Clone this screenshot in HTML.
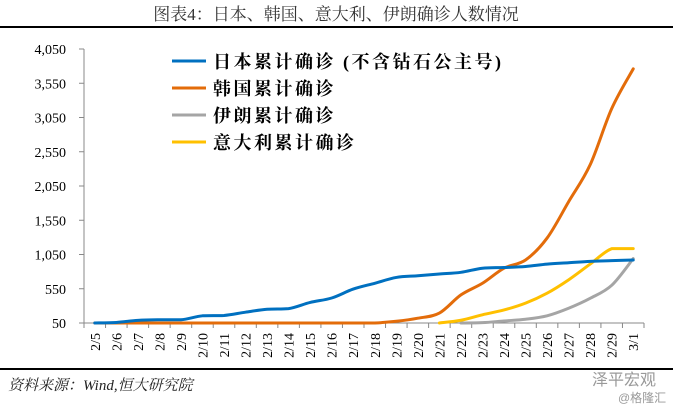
<!DOCTYPE html>
<html><head><meta charset="utf-8"><style>
body{margin:0;background:#fff;width:673px;height:405px;overflow:hidden}
svg{display:block}
</style></head><body>
<svg id="chart" width="673" height="405" xmlns="http://www.w3.org/2000/svg" font-family="'Liberation Serif','Noto Serif CJK SC',serif">
<text x="336" y="20" text-anchor="middle" font-size="17" fill="#333" font-family="'Liberation Serif','Noto Serif CJK SC',serif">图表4：日本、韩国、意大利、伊朗确诊人数情况</text>
<rect x="0" y="26" width="673" height="2" fill="#000"/>
<rect x="0" y="368" width="673" height="2" fill="#000"/>
<text x="8" y="390" font-size="15" font-style="italic" fill="#222">资料来源：Wind,恒大研究院</text>
<text x="592" y="385" font-size="16" fill="#999" font-family="'Liberation Sans','Noto Sans CJK SC',sans-serif">泽平宏观</text>
<text x="618" y="402" font-size="12" fill="#999" font-family="'Liberation Sans','Noto Sans CJK SC',sans-serif">@格隆汇</text>
<g id="axes"></g>
<g id="series"></g>
<g id="legend"></g>
</svg>
<script>
const categories=["2/5","2/6","2/7","2/8","2/9","2/10","2/11","2/12","2/13","2/14","2/15","2/16","2/17","2/18","2/19","2/20","2/21","2/22","2/23","2/24","2/25","2/26","2/27","2/28","2/29","3/1"];
const japan=[50,58,88,97,97,155,160,208,250,260,350,415,545,630,715,740,765,790,850,860,875,910,930,950,960,970];
const korea=[50,50,50,50,50,50,50,50,50,50,50,50,50,50,75,120,195,460,630,850,970,1290,1820,2360,3180,3760];
const iran=[null,null,null,null,null,null,null,null,null,null,null,null,null,null,null,null,null,50,55,80,105,155,265,410,600,990];
const italy=[null,null,null,null,null,null,null,null,null,null,null,null,null,null,null,null,50,90,170,240,340,485,680,910,1135,1135];
const yTicks=[50,550,1050,1550,2050,2550,3050,3550,4050];
const seriesNames=["日本累计确诊 (不含钻石公主号)","韩国累计确诊","伊朗累计确诊","意大利累计确诊"];
const NS="http://www.w3.org/2000/svg";
const L=84,R=644,T=49,B=323,yMin=50,yMax=4050;
const bw=(R-L)/categories.length;
const x=i=>L+bw*(i+0.5);
const y=v=>B-(v-yMin)/(yMax-yMin)*(B-T);
function mk(tag,attrs,parent){const e=document.createElementNS(NS,tag);for(const k in attrs)e.setAttribute(k,attrs[k]);parent.appendChild(e);return e;}
const axes=document.getElementById('axes');
const ya=mk('line',{x1:L,y1:T,x2:L,y2:B,stroke:'#888','stroke-width':1},axes);


yTicks.forEach(v=>{
 const t=mk('line',{x1:L-5,x2:L,y1:y(v),y2:y(v),stroke:'#888'},axes);
 
 
 const tx=mk('text',{x:L-18,y:y(v)+5,'text-anchor':'end','font-size':14,fill:'#000'},axes);
 tx.textContent=v.toLocaleString('en-US');
 
 
});
const xa=mk('line',{x1:L,y1:B,x2:R,y2:B,stroke:'#888'},axes);


for(let i=0;i<=categories.length;i++){
 const t=mk('line',{x1:L+bw*i,x2:L+bw*i,y1:B,y2:B+5,stroke:'#888'},axes);
 
 
}
categories.forEach((c,i)=>{
 const tx=mk('text',{transform:`translate(${x(i)+5},${B+10}) rotate(-90)`,'text-anchor':'end','font-size':14,fill:'#000'},axes);
 tx.textContent=c;
 
 
});
const sg=document.getElementById('series');
function clamp(v,a,b){const lo=Math.min(a,b),hi=Math.max(a,b);return Math.max(lo,Math.min(hi,v));}
function path(vals){const pts=[];vals.forEach((v,i)=>{if(v!=null)pts.push([x(i),y(v)]);});
 let d=`M${pts[0][0]},${pts[0][1]}`;
 for(let i=0;i<pts.length-1;i++){const p0=pts[Math.max(0,i-1)],p1=pts[i],p2=pts[i+1],p3=pts[Math.min(pts.length-1,i+2)];
  const c1=[p1[0]+(p2[0]-p0[0])/6,clamp(p1[1]+(p2[1]-p0[1])/6,p1[1],p2[1])],c2=[p2[0]-(p3[0]-p1[0])/6,clamp(p2[1]-(p3[1]-p1[1])/6,p1[1],p2[1])];
  d+=` C${c1[0]},${c1[1]} ${c2[0]},${c2[1]} ${p2[0]},${p2[1]}`;}
 return d;}
const defs=[[korea,'#E36C0A','korea-line'],[iran,'#A5A5A5','iran-line'],[italy,'#FFC000','italy-line'],[japan,'#0070C0','japan-line']];
defs.forEach(([vals,col,nm])=>{
 const p=mk('path',{d:path(vals),fill:'none',stroke:col,'stroke-width':3,'stroke-linejoin':'round','stroke-linecap':'round'},sg);
 
 
});
const lg=document.getElementById('legend');
const lcols=['#0070C0','#E36C0A','#A5A5A5','#FFC000'];
seriesNames.forEach((n,i)=>{
 const yy=61+i*27;
 const l=mk('line',{x1:172,x2:206,y1:yy,y2:yy,stroke:lcols[i],'stroke-width':3},lg);
 
 
 const t=mk('text',{x:213,y:yy+7,'font-size':18,'font-weight':'bold','letter-spacing':2.5,fill:'#000'},lg);
 t.textContent=n;
 
 
});
</script>
</body></html>
